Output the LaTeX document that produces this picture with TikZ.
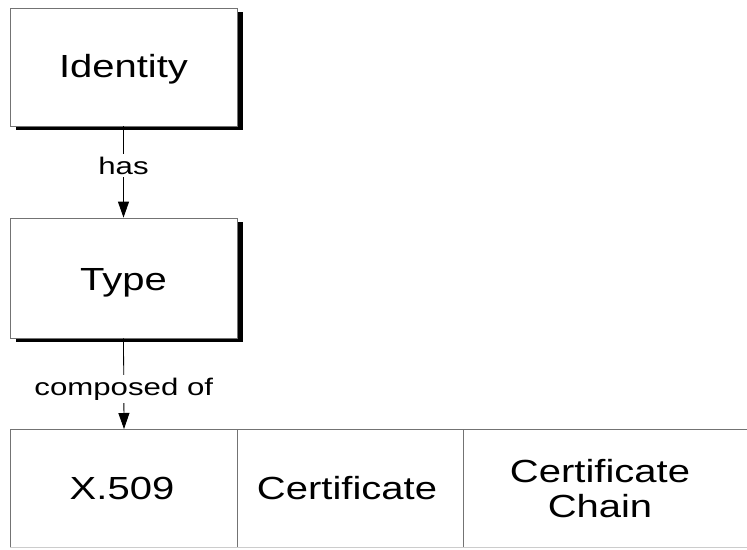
\documentclass[tikz,border=0pt]{standalone}
\usepackage{fontspec}
\setmainfont{Liberation Sans}
\newfontfamily\widesans[FakeStretch=1.25]{Liberation Sans}
\newfontfamily\widesanssmall[FakeStretch=1.3]{Liberation Sans}
\usetikzlibrary{arrows.meta}
\begin{document}
\begin{tikzpicture}[x=1pt,y=-1pt,
  entity/.style={draw=black!55,line width=0.8pt,fill=white,minimum width=227pt,
    inner sep=0pt,text height=24pt,font=\widesans\fontsize{32}{35}\selectfont},
  shade/.style={fill=black},
  rel/.style={draw=black,line width=0.8pt,-{Triangle[width=11pt,length=16pt]}},
  rellabel/.style={fill=white,inner sep=3pt,font=\widesanssmall\fontsize{24}{28}\selectfont},
  cellline/.style={draw=black!55,line width=0.8pt},
  celltext/.style={align=center,font=\widesans\fontsize{32}{35}\selectfont}]
\useasboundingbox (0,0) rectangle (747,549);
\clip (0,0) rectangle (747,549);
\fill[white] (0,0) rectangle (747,549);

% drop shadows of the two entity boxes
\fill[shade] (16,12) rectangle (243,130);
\fill[shade] (16,222) rectangle (243,342);

% entity boxes
\node[entity,minimum height=118pt,text depth=4pt] (identity) at (123.5,67) {Identity};
\node[entity,minimum height=120pt,text depth=-3pt] (type) at (123.5,278) {Type};

% table of types
\coordinate (tl) at (10,429);
\coordinate (tr) at (760,429);
\coordinate (bl) at (10,547);
\coordinate (br) at (760,547);
\draw[cellline] (bl) -- (tl) -- (tr);
\draw[draw=black!20,line width=0.8pt] (bl) -- (br);
\draw[cellline] (237,429) -- (237,547);
\draw[cellline] (463,429) -- (463,547);
\node[celltext] (x509) at (122,488.5) {X.509};
\node[celltext] (cert) at (347,488.5) {Certificate};
\node[celltext] (chain) at (600,489) {Certificate\\Chain};

\coordinate (target) at (124,429);

% relations
\draw[rel] (identity.south) -- node[rellabel,pos=0.43] {has} (type.north);
\draw[rel] (type.south) -- node[rellabel,pos=0.56] {composed of} (target);
\end{tikzpicture}
\end{document}
